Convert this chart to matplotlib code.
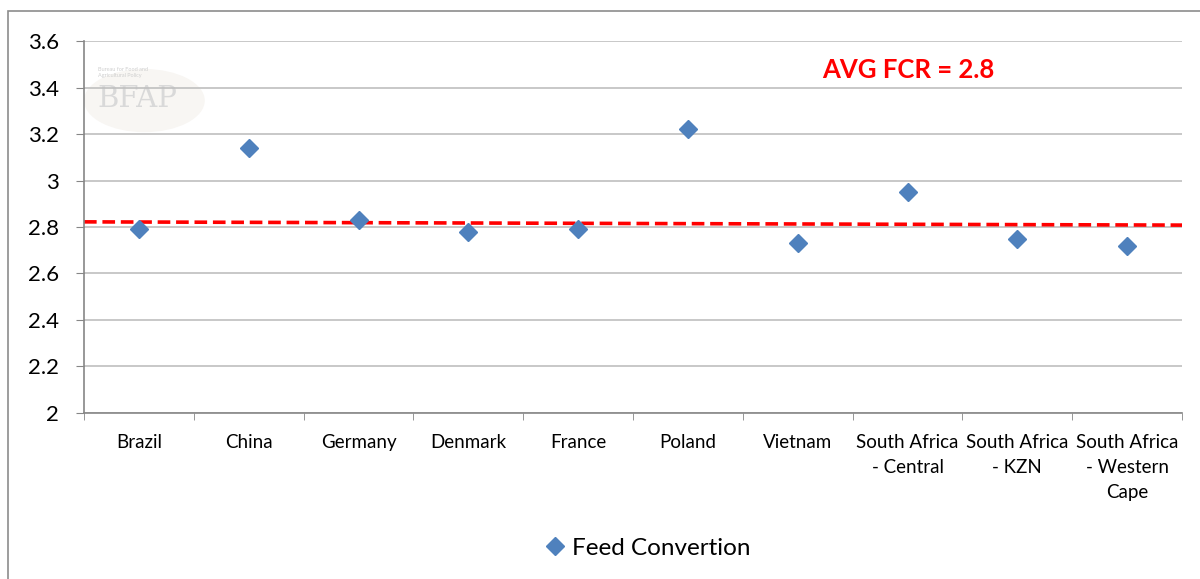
import matplotlib.pyplot as plt
from matplotlib.patches import Rectangle, Ellipse

# Feed conversion ratio per country
countries = ["Brazil", "China", "Germany", "Denmark", "France", "Poland", "Vietnam",
             "South Africa\n- Central", "South Africa\n- KZN", "South Africa\n- Western\nCape"]
fcr = [2.79, 3.14, 2.83, 2.78, 2.79, 3.22, 2.73, 2.95, 2.75, 2.72]
avg_line_x = [-0.5, 9.5]
avg_line_y = [2.822, 2.808]
y_ticks = [2, 2.2, 2.4, 2.6, 2.8, 3, 3.2, 3.4, 3.6]
y_labels = ["2", "2.2", "2.4", "2.6", "2.8", "3", "3.2", "3.4", "3.6"]

plt.rcParams['font.family'] = ['Lato', 'DejaVu Sans']

fig = plt.figure(figsize=(12, 5.79), dpi=100)
ax = fig.add_axes([0.07, 0.287, 0.915, 0.642])

# outer chart frame
fig.patches.append(Rectangle((8 / 1200, -0.05), 1.2, 1 - 11 / 579 + 0.05,
                             transform=fig.transFigure, fill=False,
                             edgecolor="#8c8c8c", linewidth=1.2))

# faint logo watermark
ax.add_patch(Ellipse((0.055, 0.84), 0.11, 0.17, transform=ax.transAxes,
                     facecolor="#f8f6f3", edgecolor="none", zorder=0))
ax.text(0.013, 0.915, "Bureau for Food and\nAgricultural Policy", transform=ax.transAxes,
        fontsize=4, color="#cfcfcf", ha="left", va="center", zorder=0)
ax.text(0.012, 0.845, "BFAP", transform=ax.transAxes, family="DejaVu Serif",
        fontsize=21, color="#d9d9d9", ha="left", va="center", zorder=0)

ax.plot(avg_line_x, avg_line_y, color="#ff0000", linestyle=(0, (3.5, 1.6)),
        linewidth=2.6, zorder=2)
ax.plot(range(len(fcr)), fcr, linestyle="none", marker="D", markersize=9.5,
        color="#4f81bd", label="Feed Convertion", zorder=3)

ax.text(0.672, 0.922, "AVG FCR = 2.8", transform=ax.transAxes, color="#ff0000",
        fontsize=18.5, fontweight="bold", ha="left", va="center")

ax.set_xlim(-0.5, 9.5)
ax.set_ylim(2, 3.6)
ax.set_yticks(y_ticks)
ax.set_yticklabels(y_labels, fontsize=16)
ax.set_xticks(range(len(countries)))
ax.set_xticklabels(countries, fontsize=13.5, linespacing=1.6, va="top")
ax.set_xticks([i - 0.5 for i in range(len(countries) + 1)], minor=True)
ax.tick_params(axis="x", which="major", length=0, pad=15)
ax.tick_params(axis="x", which="minor", length=5, color="#868686", direction="out")
ax.tick_params(axis="y", length=6, color="#868686", direction="out", pad=12)

ax.grid(axis="y", color="#bfbfbf", linewidth=1.2)
ax.set_axisbelow(True)
for s in ["top", "right"]:
    ax.spines[s].set_visible(False)
for s in ["left", "bottom"]:
    ax.spines[s].set_color("#868686")
    ax.spines[s].set_linewidth(1.2)

fig.legend(loc="center", bbox_to_anchor=(0.538, 1 - 548 / 579), frameon=False,
           fontsize=17.5, handletextpad=0.1, handlelength=1.2)

fig.savefig("out.png", dpi=100)
